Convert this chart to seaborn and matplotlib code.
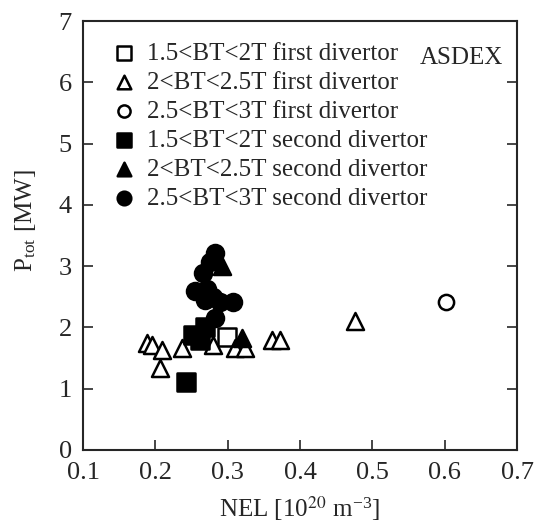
import matplotlib
matplotlib.use("Agg")
import matplotlib.pyplot as plt
import seaborn as sns
import pandas as pd

sns.set_style("ticks")
plt.rcParams['font.family'] = ['Liberation Serif', 'DejaVu Serif']
plt.rcParams['mathtext.fontset'] = 'stix'

# data (NEL [1e20 m^-3], Ptot [MW])
sq_open_x = [0.299]
sq_open_y = [1.84]
tri_open_x = [0.189, 0.195, 0.209, 0.206, 0.237, 0.280, 0.310, 0.324, 0.361, 0.372, 0.476]
tri_open_y = [1.74, 1.71, 1.63, 1.33, 1.66, 1.72, 1.66, 1.66, 1.79, 1.79, 2.11]
circ_open_x = [0.602]
circ_open_y = [2.42]
sq_fill_x = [0.252, 0.269, 0.262, 0.242]
sq_fill_y = [1.87, 2.00, 1.79, 1.11]
tri_fill_x = [0.292, 0.320]
tri_fill_y = [3.00, 1.82]
circ_fill_x = [0.283, 0.276, 0.266, 0.255, 0.272, 0.269, 0.280, 0.289, 0.307, 0.283]
circ_fill_y = [3.22, 3.06, 2.89, 2.60, 2.63, 2.44, 2.49, 2.41, 2.41, 2.15]

labels = ["1.5<BT<2T first divertor", "2<BT<2.5T first divertor", "2.5<BT<3T first divertor",
          "1.5<BT<2T second divertor", "2<BT<2.5T second divertor", "2.5<BT<3T second divertor"]

fig = plt.figure(figsize=(5.36, 5.25), dpi=100)
ax = fig.add_axes([0.155, 0.1429, 0.8096, 0.8171])

series = [
    (sq_open_x, sq_open_y, 's', 'white', 150),
    (tri_open_x, tri_open_y, '^', 'white', 150),
    (circ_open_x, circ_open_y, 'o', 'white', 120),
    (sq_fill_x, sq_fill_y, 's', 'black', 150),
    (tri_fill_x, tri_fill_y, '^', 'black', 150),
    (circ_fill_x, circ_fill_y, 'o', 'black', 150),
]
for (xs, ys, m, fc, s), lab in zip(series, labels):
    df = pd.DataFrame({"NEL": xs, "P": ys})
    sns.scatterplot(data=df, x="NEL", y="P", marker=m, s=s, facecolor=fc,
                    edgecolor='black', linewidth=1.8, ax=ax, label=lab, zorder=3)

ax.set_xlim(0.1, 0.7)
ax.set_ylim(0, 7)
ax.set_xticks([0.1, 0.2, 0.3, 0.4, 0.5, 0.6, 0.7])
ax.set_xticklabels(["0.1", "0.2", "0.3", "0.4", "0.5", "0.6", "0.7"])
ax.set_yticks(range(0, 8))
ax.tick_params(direction='in', length=7, width=1.2, labelsize=19, right=True, top=False)
ax.tick_params(axis='x', pad=9)
ax.tick_params(axis='y', pad=8)
for sp in ax.spines.values():
    sp.set_linewidth(1.5)
    sp.set_visible(True)
ax.set_xlabel(r'NEL [10$^{20}$ m$^{\mathregular{-3}}$]', fontsize=18, labelpad=7)
ax.set_ylabel(r'P$_{\mathregular{tot}}$ [MW]', fontsize=18)
ax.yaxis.set_label_coords(-0.105, 0.535)

leg = ax.legend(loc='upper left', bbox_to_anchor=(0.03, 0.985), frameon=False, fontsize=18,
                handletextpad=0.45, labelspacing=0.26, borderaxespad=0.2, handlelength=1.0,
                markerscale=0.8)
ax.text(0.775, 0.913, "ASDEX", transform=ax.transAxes, fontsize=18, va='center', ha='left')

fig.savefig("out.png", dpi=100)
